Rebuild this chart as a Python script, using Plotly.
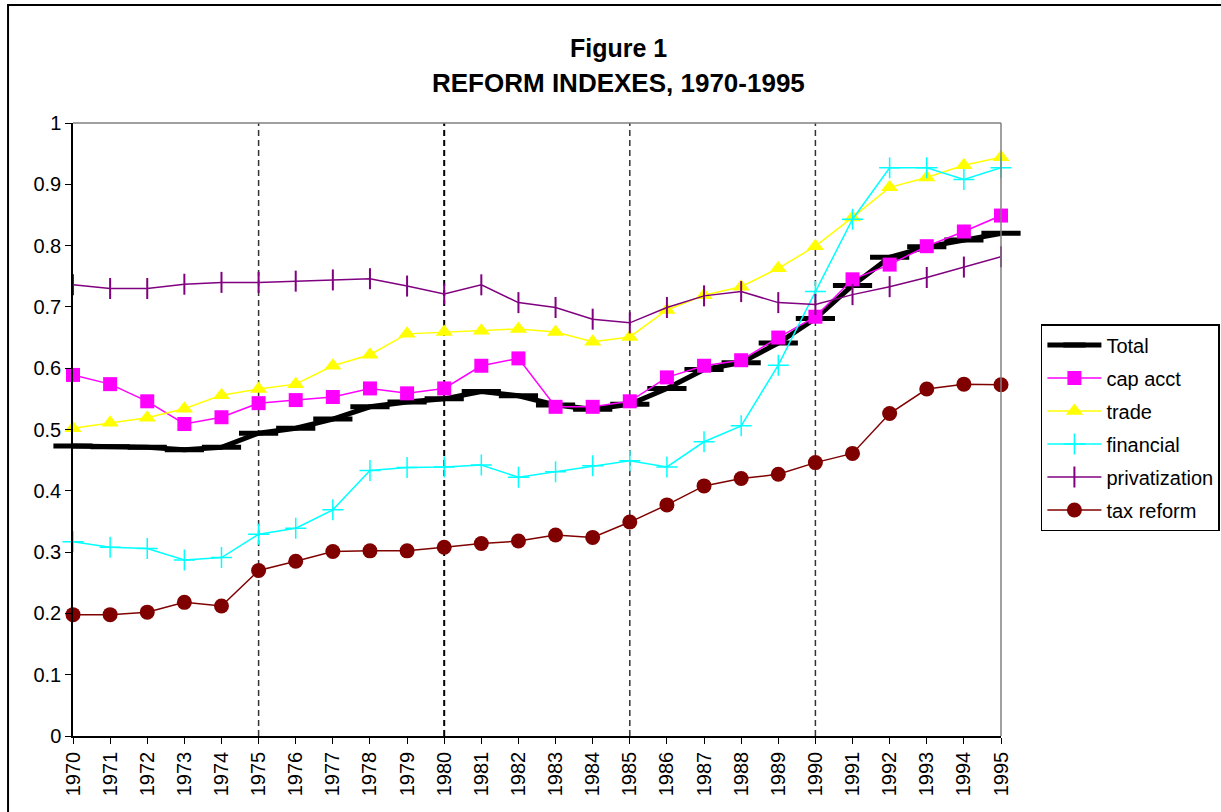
import plotly.graph_objects as go

years = list(range(1970, 1996))

total = [0.473, 0.472, 0.471, 0.467, 0.471, 0.494, 0.502, 0.517, 0.537, 0.545,
         0.550, 0.562, 0.555, 0.540, 0.533, 0.541, 0.567, 0.598, 0.609, 0.641,
         0.681, 0.735, 0.781, 0.798, 0.809, 0.820]
cap_acct = [0.589, 0.574, 0.546, 0.509, 0.520, 0.543, 0.548, 0.553, 0.567, 0.559,
            0.567, 0.604, 0.616, 0.537, 0.537, 0.546, 0.585, 0.604, 0.613, 0.650,
            0.684, 0.745, 0.769, 0.799, 0.823, 0.849]
trade = [0.502, 0.511, 0.519, 0.534, 0.556, 0.566, 0.574, 0.604, 0.622, 0.656,
         0.659, 0.661, 0.664, 0.659, 0.643, 0.651, 0.695, 0.719, 0.733, 0.763,
         0.799, 0.846, 0.895, 0.911, 0.931, 0.944]
financial = [0.317, 0.308, 0.306, 0.287, 0.291, 0.329, 0.339, 0.369, 0.433, 0.438,
             0.439, 0.442, 0.422, 0.431, 0.441, 0.449, 0.439, 0.480, 0.506, 0.605,
             0.725, 0.843, 0.927, 0.927, 0.908, 0.927]
privatization = [0.736, 0.730, 0.730, 0.737, 0.740, 0.740, 0.742, 0.744, 0.746, 0.734,
                 0.721, 0.736, 0.707, 0.699, 0.680, 0.674, 0.699, 0.718, 0.725, 0.707,
                 0.704, 0.720, 0.733, 0.748, 0.765, 0.782]
tax_reform = [0.198, 0.198, 0.202, 0.218, 0.212, 0.270, 0.285, 0.301, 0.302, 0.302,
              0.308, 0.314, 0.318, 0.328, 0.324, 0.349, 0.377, 0.408, 0.420, 0.427,
              0.446, 0.461, 0.526, 0.566, 0.574, 0.573]

period_lines = [1975, 1980, 1985, 1990]

FONT = "Liberation Sans, Arial, sans-serif"

fig = go.Figure()

fig.add_trace(go.Scatter(
    x=years, y=total, name="Total", mode="lines+markers", legendgroup="g1",
    line=dict(color="black", width=5),
    marker=dict(symbol="line-ew", size=28, color="black",
                line=dict(color="black", width=5)),
    cliponaxis=False))
fig.add_trace(go.Scatter(
    x=years, y=cap_acct, name="cap acct", mode="lines+markers", legendgroup="g2",
    line=dict(color="#FF00FF", width=1.5),
    marker=dict(symbol="square", size=14, color="#FF00FF"),
    cliponaxis=False))
fig.add_trace(go.Scatter(
    x=years, y=trade, name="trade", mode="lines+markers", legendgroup="g3",
    line=dict(color="#FFFF00", width=1.5),
    marker=dict(symbol="triangle-up", size=15, color="#FFFF00"),
    cliponaxis=False))
fig.add_trace(go.Scatter(
    x=years, y=financial, name="financial", mode="lines+markers", legendgroup="g4",
    line=dict(color="#00FFFF", width=1.5),
    marker=dict(symbol="cross-thin", size=15, color="#00FFFF",
                line=dict(color="#00FFFF", width=1.5)),
    cliponaxis=False))
fig.add_trace(go.Scatter(
    x=years, y=privatization, name="privatization", mode="lines+markers", legendgroup="g5",
    line=dict(color="#800080", width=1.5),
    marker=dict(symbol="line-ns", size=15, color="#800080",
                line=dict(color="#800080", width=2)),
    cliponaxis=False))
fig.add_trace(go.Scatter(
    x=years, y=tax_reform, name="tax reform", mode="lines+markers", legendgroup="g6",
    line=dict(color="#800000", width=1.5),
    marker=dict(symbol="circle", size=15, color="#800000"),
    cliponaxis=False))

shapes = []
for yr in period_lines:
    shapes.append(dict(type="line", xref="x", yref="y", x0=yr, x1=yr, y0=0, y1=1,
                       line=dict(color="#333333" if yr != 1980 else "black",
                                 width=2 if yr == 1980 else 1.5,
                                 dash="6px,4px"), layer="below"))
# grey plot-area frame (top and right)
shapes.append(dict(type="line", xref="paper", yref="paper", x0=0, x1=1, y0=1, y1=1,
                   line=dict(color="#808080", width=1.5)))
shapes.append(dict(type="line", xref="paper", yref="paper", x0=1, x1=1, y0=0, y1=1,
                   line=dict(color="#808080", width=1.5)))
# outer chart border
shapes.append(dict(type="rect", xref="paper", yref="paper", x0=-0.070, x1=1.35,
                   y0=-0.25, y1=1.1925, line=dict(color="black", width=2)))

fig.update_layout(
    width=1221, height=812,
    margin=dict(l=73, r=220, t=123, b=76, autoexpand=False),
    paper_bgcolor="white", plot_bgcolor="white",
    font=dict(family=FONT, size=20, color="black"),
    shapes=shapes,
    showlegend=True,
    legend=dict(x=1.043, y=0.672, xanchor="left", yanchor="top",
                bordercolor="black", borderwidth=1.5, bgcolor="white",
                font=dict(family=FONT, size=20, color="black"),
                tracegroupgap=4, itemwidth=54),
    annotations=[
        dict(text="<b>Figure 1</b>", xref="paper", yref="paper", x=0.5873, y=1.1223,
             showarrow=False, font=dict(family=FONT, size=25, color="black"),
             xanchor="center", yanchor="middle"),
        dict(text="<b>REFORM INDEXES, 1970-1995</b>", xref="paper", yref="paper",
             x=0.5873, y=1.0653, showarrow=False,
             font=dict(family=FONT, size=26, color="black"),
             xanchor="center", yanchor="middle"),
    ],
    xaxis=dict(range=[1970, 1995], tickvals=years, ticktext=[str(y) for y in years],
               tickangle=-90, showgrid=False, zeroline=False,
               showline=True, linecolor="black", linewidth=1.5,
               ticks="outside", ticklen=6, tickcolor="black", tickwidth=1,
               tickfont=dict(family=FONT, size=20, color="black")),
    yaxis=dict(range=[0, 1], dtick=0.1, tick0=0, showgrid=False, zeroline=False,
               showline=True, linecolor="black", linewidth=1.5,
               ticks="outside", ticklen=6, tickcolor="black", tickwidth=1,
               tickfont=dict(family=FONT, size=20, color="black")),
    # inside halves of the crossing tick marks
    xaxis2=dict(overlaying="x", range=[1970, 1995], tickvals=years, side="bottom",
                anchor="y", showticklabels=False, showgrid=False, zeroline=False,
                showline=False, ticks="inside", ticklen=7, tickcolor="black",
                tickwidth=1),
    yaxis2=dict(overlaying="y", range=[0, 1], dtick=0.1, tick0=0, side="left",
                anchor="x", showticklabels=False, showgrid=False, zeroline=False,
                showline=False, ticks="inside", ticklen=7, tickcolor="black",
                tickwidth=1),
)

fig.write_html(
    "out.html",
    config={"displayModeBar": False},
    post_script="document.body.style.margin='0';document.body.style.padding='0';"
                "document.body.style.overflow='hidden';",
)
